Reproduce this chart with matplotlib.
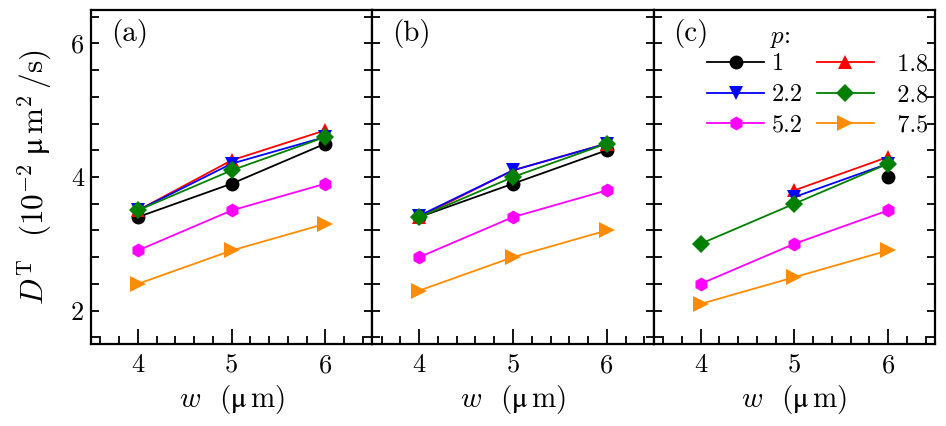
import numpy as np
import matplotlib
matplotlib.use("Agg")
import matplotlib.pyplot as plt
from matplotlib.ticker import MultipleLocator

plt.rcParams['font.family'] = ['cmr10', 'DejaVu Serif']
plt.rcParams['mathtext.fontset'] = 'cm'
plt.rcParams['axes.unicode_minus'] = False

nan = np.nan
w = [4, 5, 6]
p_labels = ['1', '1.8', '2.2', '2.8', '5.2', '7.5']

# panel (a)
a_1 = [3.4, 3.9, 4.5]
a_18 = [3.5, 4.25, 4.7]
a_22 = [3.5, 4.2, 4.6]
a_28 = [3.5, 4.1, 4.6]
a_52 = [2.9, 3.5, 3.9]
a_75 = [2.4, 2.9, 3.3]
# panel (b)
b_1 = [3.4, 3.9, 4.4]
b_18 = [3.4, 4.1, 4.5]
b_22 = [3.42, 4.1, 4.5]
b_28 = [3.4, 4.0, 4.5]
b_52 = [2.8, 3.4, 3.8]
b_75 = [2.3, 2.8, 3.2]
# panel (c)
c_1 = [nan, nan, 4.0]
c_18 = [nan, 3.8, 4.3]
c_22 = [nan, 3.7, 4.2]
c_28 = [3.0, 3.6, 4.2]
c_52 = [2.4, 3.0, 3.5]
c_75 = [2.1, 2.5, 2.9]

panels = [
    ('(a)', [a_1, a_18, a_22, a_28, a_52, a_75]),
    ('(b)', [b_1, b_18, b_22, b_28, b_52, b_75]),
    ('(c)', [c_1, c_18, c_22, c_28, c_52, c_75]),
]
colors = ['black', 'red', 'blue', 'green', 'magenta', '#FF8C00']
markers = ['o', '^', 'v', 'D', 'h', '>']
msizes = [10, 10, 10, 9, 10, 11]

fig, axes = plt.subplots(1, 3, figsize=(9.46, 4.26), dpi=100, sharey=True)
fig.subplots_adjust(left=91/946, right=935/946, bottom=1-344/426, top=1-10/426, wspace=0)

handles = []
for ax, (tag, series) in zip(axes, panels):
    for s, c, m, ms, lab in zip(series, colors, markers, msizes, p_labels):
        h, = ax.plot(w, s, color=c, marker=m, markersize=ms, lw=1.3, label=lab,
                     markeredgewidth=0)
        if tag == '(c)':
            handles.append(h)
    ax.set_xlim(3.5, 6.5)
    ax.set_ylim(1.5, 6.5)
    ax.xaxis.set_major_locator(MultipleLocator(1))
    ax.xaxis.set_minor_locator(MultipleLocator(0.2))
    ax.yaxis.set_major_locator(MultipleLocator(2))
    ax.yaxis.set_minor_locator(MultipleLocator(0.4))
    ax.tick_params(axis='x', which='major', direction='in', length=11, width=1.3,
                   labelsize=19, pad=7, top=False)
    ax.tick_params(axis='x', which='minor', direction='in', length=5.5, width=1.3, top=False)
    ax.tick_params(axis='y', which='both', direction='in', length=6, width=1.3,
                   left=True, right=True, labelsize=19, pad=5)
    for sp in ax.spines.values():
        sp.set_linewidth(1.6)
    ax.set_xlabel(r'$w$  ($\mathrm{μ}\,$m)', fontsize=21, labelpad=4)
    ax.text(0.07, 0.972, tag, transform=ax.transAxes, fontsize=21, va='top', ha='left')

axes[0].set_ylabel(r'$D^{\mathrm{T}}$  ($10^{-2}\;\mathrm{μ}\,$m$^{2}\,$/s)',
                   fontsize=22.5, labelpad=12)

# legend for panel (c)
axes[2].text(0.415, 0.901, r'$p$:', transform=axes[2].transAxes, fontsize=18,
             va='baseline', ha='left')
order = [0, 2, 4, 1, 3, 5]
labs = ['1', '2.2', '5.2', '  1.8', '  2.8', '  7.5']
leg = axes[2].legend([handles[i] for i in order], labs, ncol=2, frameon=False,
                     fontsize=17.5, loc='upper left', bbox_to_anchor=(0.19, 0.871),
                     handlelength=2.35, handletextpad=0.32, columnspacing=0.55,
                     labelspacing=0.36, borderaxespad=0.0, borderpad=0.0)

fig.savefig('out.png', dpi=100)
